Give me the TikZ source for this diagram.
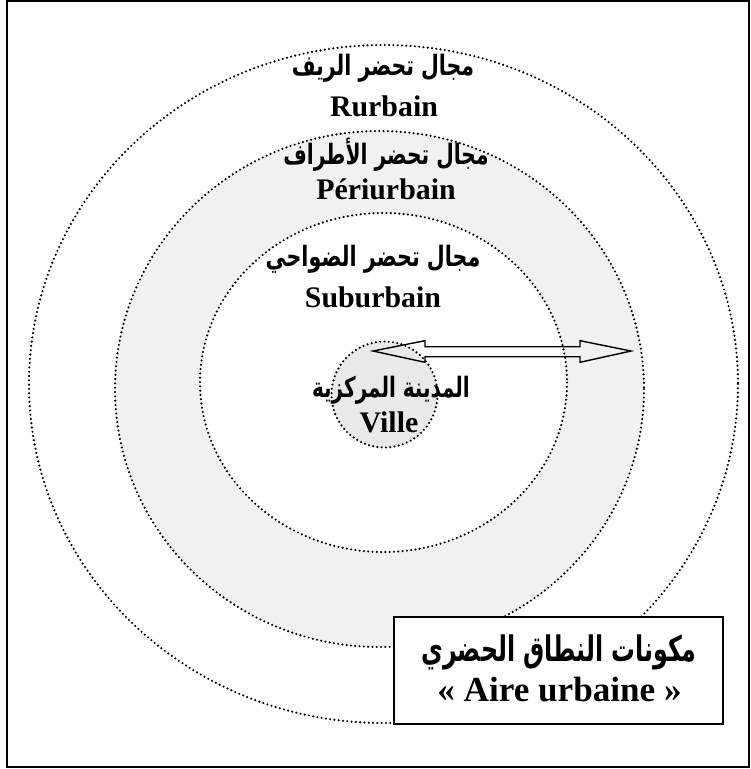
\documentclass[tikz,border=0pt]{standalone}
\usepackage{fontspec}
\setmainfont{Liberation Serif}
\newfontfamily\arabicfont[Script=Arabic]{DejaVu Sans}
\TeXXeTstate=1
\definecolor{ringgray}{RGB}{241,241,241}
\definecolor{villegray}{RGB}{233,233,233}
\newcommand{\artxt}[2][0.73]{\scalebox{#1}[1]{\arabicfont\bfseries\beginR #2\endR}}

\begin{document}
\begin{tikzpicture}[x=0.02cm, y=-0.02cm,
    zone/.style={line width=1.35pt, dash pattern=on 0pt off 2.45pt, line cap=round},
    lbl/.style={inner sep=0pt, font=\bfseries\fontsize{17}{20}\selectfont},
    arlbl/.style={inner sep=0pt, font=\fontsize{16}{19}\selectfont}]
\useasboundingbox (0,0) rectangle (751,769);
\draw[line width=1.1pt] (7,1) rectangle (749,767);
% the four zones
\draw[zone, fill=white] (383.5,384) ellipse [x radius=354.5, y radius=339];
\draw[zone, fill=ringgray] (379.5,389) ellipse [x radius=264.5, y radius=258];
\draw[zone, fill=white] (383.5,382.5) ellipse [x radius=183.5, y radius=169.5];
\draw[zone, fill=villegray] (384.5,394.5) circle [radius=53];
% labels
\node[arlbl] (rurAr) at (383,68) {\artxt{مجال تحضر الريف}};
\node[lbl] (rur) at (384,106) {Rurbain};
\node[arlbl] (periAr) at (386,155) {\artxt[0.72]{مجال تحضر الأطراف}};
\node[lbl] (peri) at (386,189) {Périurbain};
\node[arlbl] (subAr) at (373,259) {\artxt[0.735]{مجال تحضر الضواحي}};
\node[lbl] (sub) at (373,297) {Suburbain};
\node[arlbl] (villeAr) at (391,390) {\artxt[0.71]{المدينة المركزية}};
\node[lbl] (ville) at (389,422) {Ville};
% double arrow
\coordinate (tipL) at (373,351);
\coordinate (tipR) at (631,351);
\draw[line width=0.8pt, line join=miter] (tipL) -- (425,340.7) -- (425,346.7) -- (580,346.7) -- (580,340.7)
  -- (tipR) -- (580,362.3) -- (580,356.7) -- (425,356.7) -- (425,362.3) -- cycle;
% title box
\node[draw, line width=1.1pt, fill=white, minimum width=6.58cm, minimum height=2.14cm] (aire) at (558.5,670.5) {};
\node[inner sep=0pt, font=\fontsize{20}{24}\selectfont] (aireAr) at (559,652) {\artxt[0.675]{مكونات النطاق الحضري}};
\node[inner sep=0pt, font=\bfseries\fontsize{20}{24}\selectfont] (aireFr) at (559.5,690) {« Aire urbaine »};
\end{tikzpicture}
\end{document}
